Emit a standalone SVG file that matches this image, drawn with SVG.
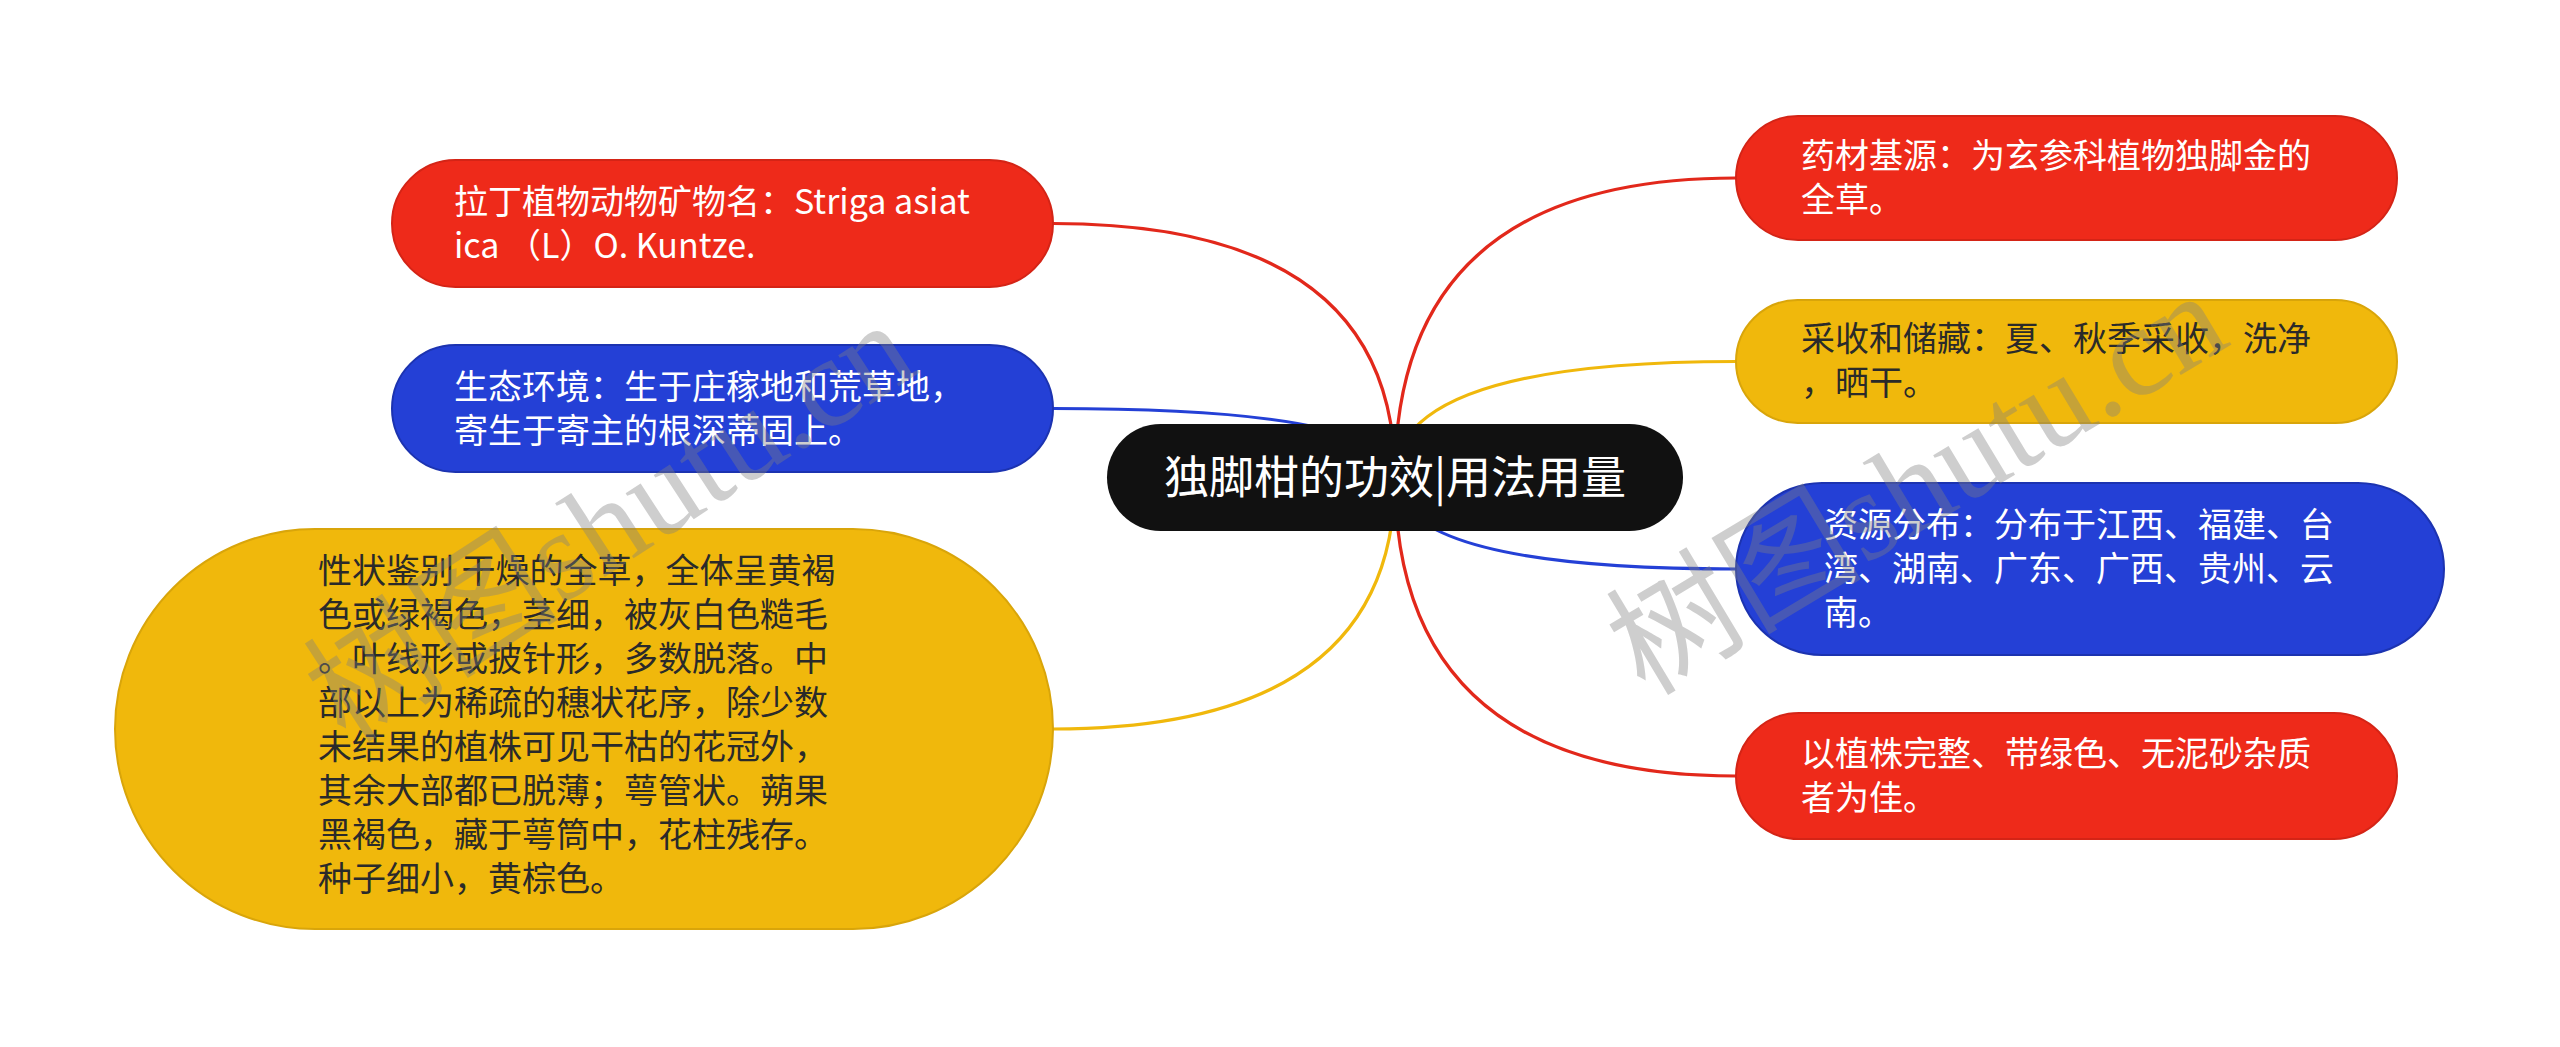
<svg xmlns="http://www.w3.org/2000/svg" width="2560" height="1047" viewBox="0 0 2560 1047">
<style>
.t{font-family:"Noto Sans CJK SC","Liberation Sans",sans-serif;font-size:34px}
.w{fill:#ffffff}
.d{fill:#2a2a2a}
.red{fill:#EE2A1A;stroke:#D42416;stroke-width:2}
.blue{fill:#2440D6;stroke:#1C33B0;stroke-width:2}
.yel{fill:#F0B80C;stroke:#D9A50A;stroke-width:2}
.ln{fill:none;stroke-width:3.2}
.wm{font-family:"Liberation Serif","Noto Sans CJK SC",serif;font-size:128px;fill:#808080;opacity:0.38}
</style>
<rect width="2560" height="1047" fill="#ffffff"/>
<g id="connectors">
<path class="ln" stroke="#E2281B" d="M1395 477 Q1395 223.5 1053 223.5"/>
<path class="ln" stroke="#2440D6" d="M1395 477 Q1395 408.5 1053 408.5"/>
<path class="ln" stroke="#F0B80C" d="M1395 477 Q1395 729 1053 729"/>
<path class="ln" stroke="#E2281B" d="M1395 477 Q1395 178 1736 178"/>
<path class="ln" stroke="#F0B80C" d="M1395 477 Q1395 361.5 1736 361.5"/>
<path class="ln" stroke="#2440D6" d="M1395 477 Q1395 569 1736 569"/>
<path class="ln" stroke="#E2281B" d="M1395 477 Q1395 776 1736 776"/>
</g>
<g id="center">
<rect x="1107" y="424" width="576" height="107" rx="53.5" fill="#111111"/>
<text x="1395" y="494" text-anchor="middle" font-family="Noto Sans CJK SC,Liberation Sans,sans-serif" font-size="45" fill="#ffffff">独脚柑的功效|用法用量</text>
</g>
<g id="n-latin">
<rect class="red" x="392" y="160" width="661" height="127" rx="63.5"/>
<text class="t w" x="454" y="214"><tspan x="454">拉丁植物动物矿物名：Striga asiat</tspan><tspan x="454" dy="44">ica （L）O. Kuntze.</tspan></text>
</g>
<g id="n-eco">
<rect class="blue" x="392" y="345" width="661" height="127" rx="63.5"/>
<text class="t w" x="454" y="399"><tspan x="454">生态环境：生于庄稼地和荒草地，</tspan><tspan x="454" dy="44">寄生于寄主的根深蒂固上。</tspan></text>
</g>
<g id="n-trait">
<rect class="yel" x="115" y="529" width="938" height="400" rx="200"/>
<text class="t d" x="318" y="583"><tspan x="318">性状鉴别 干燥的全草，全体呈黄褐</tspan><tspan x="318" dy="44">色或绿褐色，茎细，被灰白色糙毛</tspan><tspan x="318" dy="44">。叶线形或披针形，多数脱落。中</tspan><tspan x="318" dy="44">部以上为稀疏的穗状花序，除少数</tspan><tspan x="318" dy="44">未结果的植株可见干枯的花冠外，</tspan><tspan x="318" dy="44">其余大部都已脱薄；萼管状。蒴果</tspan><tspan x="318" dy="44">黑褐色，藏于萼筒中，花柱残存。</tspan><tspan x="318" dy="44">种子细小，黄棕色。</tspan></text>
</g>
<g id="n-source">
<rect class="red" x="1736" y="116" width="661" height="124" rx="62"/>
<text class="t w" x="1801" y="168"><tspan x="1801">药材基源：为玄参科植物独脚金的</tspan><tspan x="1801" dy="44">全草。</tspan></text>
</g>
<g id="n-harvest">
<rect class="yel" x="1736" y="300" width="661" height="123" rx="61.5"/>
<text class="t d" x="1801" y="351"><tspan x="1801">采收和储藏：夏、秋季采收，洗净</tspan><tspan x="1801" dy="44">，晒干。</tspan></text>
</g>
<g id="n-dist">
<rect class="blue" x="1736" y="483" width="708" height="172" rx="86"/>
<text class="t w" x="1824" y="537"><tspan x="1824">资源分布：分布于江西、福建、台</tspan><tspan x="1824" dy="44">湾、湖南、广东、广西、贵州、云</tspan><tspan x="1824" dy="44">南。</tspan></text>
</g>
<g id="n-quality">
<rect class="red" x="1736" y="713" width="661" height="126" rx="63"/>
<text class="t w" x="1801" y="766"><tspan x="1801">以植株完整、带绿色、无泥砂杂质</tspan><tspan x="1801" dy="44">者为佳。</tspan></text>
</g>
<g id="watermark">
<text class="wm" x="346" y="745" transform="rotate(-33 346 745)">树图shutu.cn</text>
<text class="wm" x="1645" y="697" transform="rotate(-31 1645 697)">树图shutu.cn</text>
</g>
</svg>
